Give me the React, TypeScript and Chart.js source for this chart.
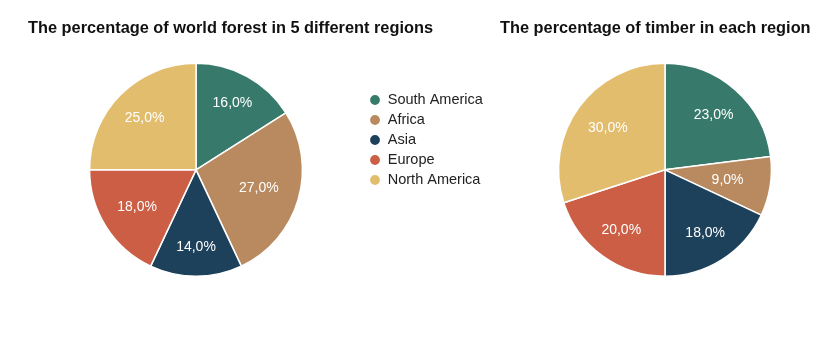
import { useEffect, useRef } from "react";
import { Chart, registerables } from "chart.js";

Chart.register(...registerables);

const regions = ["South America", "Africa", "Asia", "Europe", "North America"];
const forestShare = [16, 27, 14, 18, 25];
const timberShare = [23, 9, 18, 20, 30];
const regionColors = ["#377a6b", "#b98a5f", "#1d405b", "#cc5e45", "#e2bd6d"];
const forestTitle = "The percentage of world forest in 5 different regions";
const timberTitle = "The percentage of timber in each region";

const FONT = "'Liberation Sans', Arial, sans-serif";

const fmt = (v: number) => v.toFixed(1).replace(".", ",") + "%";

const sliceLabels = {
  id: "sliceLabels",
  afterDatasetsDraw(chart: any) {
    const ctx = chart.ctx;
    const meta = chart.getDatasetMeta(0);
    const data = chart.data.datasets[0].data as number[];
    ctx.save();
    ctx.font = `14px ${FONT}`;
    ctx.fillStyle = "#ffffff";
    ctx.textAlign = "center";
    ctx.textBaseline = "middle";
    meta.data.forEach((arc: any, i: number) => {
      const { x, y, startAngle, endAngle, outerRadius } = arc.getProps(
        ["x", "y", "startAngle", "endAngle", "outerRadius"],
        true
      );
      const mid = (startAngle + endAngle) / 2;
      const d = outerRadius * (0.57 + 0.16 * Math.abs(Math.sin(mid)));
      ctx.fillText(fmt(data[i]), x + d * Math.cos(mid), y + d * Math.sin(mid));
    });
    ctx.restore();
  },
};

const titleFont = { family: FONT, size: 16.35, weight: "bold" as const, lineHeight: 1.2 };

export default function App() {
  const ref1 = useRef<HTMLCanvasElement>(null);
  const ref2 = useRef<HTMLCanvasElement>(null);

  useEffect(() => {
    const c1 = new Chart(ref1.current!, {
      type: "pie",
      data: {
        labels: regions,
        datasets: [
          {
            data: forestShare,
            backgroundColor: regionColors,
            borderColor: "#ffffff",
            borderWidth: 1.5,
          },
        ],
      },
      options: {
        responsive: false,
        animation: false,
        events: [],
        layout: { padding: { left: 28, right: 0, top: 3, bottom: 87 } },
        plugins: {
          title: {
            display: true,
            text: forestTitle,
            align: "start",
            color: "#111111",
            font: titleFont,
            padding: { top: 16, bottom: 24 },
          },
          legend: {
            display: true,
            position: "right",
            align: "center",
            maxWidth: 125,
            labels: {
              usePointStyle: true,
              pointStyle: "circle",
              boxWidth: 11,
              boxHeight: 8,
              padding: 5.5,
              color: "#222222",
              font: { family: FONT, size: 14.5 },
            },
          },
          tooltip: { enabled: false },
        },
      },
      plugins: [sliceLabels],
    });

    const c2 = new Chart(ref2.current!, {
      type: "pie",
      data: {
        labels: regions,
        datasets: [
          {
            data: timberShare,
            backgroundColor: regionColors,
            borderColor: "#ffffff",
            borderWidth: 1.5,
          },
        ],
      },
      options: {
        responsive: false,
        animation: false,
        events: [],
        layout: { padding: { left: 11, right: 6, top: 3, bottom: 87 } },
        plugins: {
          title: {
            display: true,
            text: timberTitle,
            align: "start",
            color: "#111111",
            font: titleFont,
            padding: { top: 16, bottom: 24 },
          },
          legend: { display: false },
          tooltip: { enabled: false },
        },
      },
      plugins: [sliceLabels],
    });

    return () => {
      c1.destroy();
      c2.destroy();
    };
  }, []);

  return (
    <div
      style={{
        position: "absolute",
        left: 0,
        top: 0,
        width: 836,
        height: 364,
        background: "#ffffff",
        overflow: "hidden",
      }}
    >
      <canvas
        ref={ref1}
        width={489}
        height={364}
        style={{ position: "absolute", left: 0, top: 0, width: 489, height: 364 }}
      />
      <canvas
        ref={ref2}
        width={347}
        height={364}
        style={{ position: "absolute", left: 489, top: 0, width: 347, height: 364 }}
      />
    </div>
  );
}
